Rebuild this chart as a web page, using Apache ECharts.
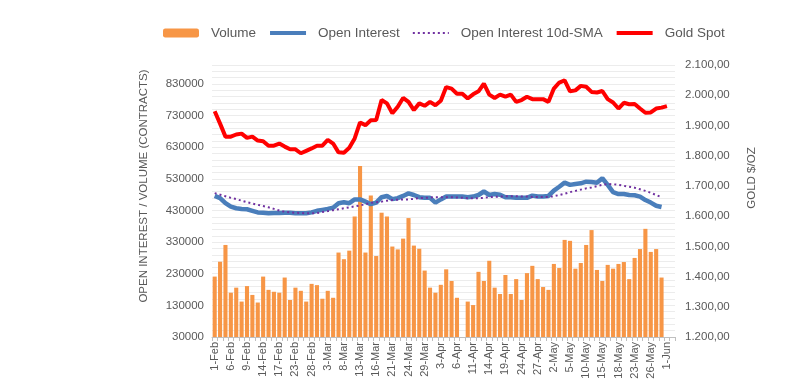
<!DOCTYPE html>
<html><head><meta charset="utf-8">
<script src="https://cdn.jsdelivr.net/npm/echarts@6/dist/echarts.min.js"></script>
<style>html,body{margin:0;padding:0;background:#fff}#c{width:810px;height:385px}</style>
</head><body><div id="c"></div>
<script>
const categories = [
 '1-Feb','2-Feb','3-Feb','6-Feb','7-Feb','8-Feb','9-Feb','10-Feb','13-Feb','14-Feb','15-Feb','16-Feb','17-Feb','21-Feb','22-Feb','23-Feb','24-Feb','27-Feb','28-Feb',
 '1-Mar','2-Mar','3-Mar','6-Mar','7-Mar','8-Mar','9-Mar','10-Mar','13-Mar','14-Mar','15-Mar','16-Mar','17-Mar','20-Mar','21-Mar','22-Mar','23-Mar','24-Mar','27-Mar','28-Mar','29-Mar','30-Mar','31-Mar',
 '3-Apr','4-Apr','5-Apr','6-Apr','7-Apr','10-Apr','11-Apr','12-Apr','13-Apr','14-Apr','17-Apr','18-Apr','19-Apr','20-Apr','21-Apr','24-Apr','25-Apr','26-Apr','27-Apr','28-Apr',
 '1-May','2-May','3-May','4-May','5-May','8-May','9-May','10-May','11-May','12-May','15-May','16-May','17-May','18-May','19-May','22-May','23-May','24-May','25-May','26-May','30-May','31-May',
 '1-Jun','2-Jun'
];
// thousands of contracts
const volume = [
 221,268,321,170,186,142,191,163,139,221,179,173,170,218,147,186,176,142,198,
 194,151,176,154,297,276,303,411,571,297,477,286,423,411,316,307,341,406,319,309,240,186,170,
 195,244,207,154,null,142,131,236,207,271,186,166,226,166,213,147,232,255,213,188,
 179,261,248,337,334,246,264,321,368,242,207,258,246,261,267,213,280,308,372,299,308,218,
 null,null
];
const openInterest = [
 476,469,453,442,437,435,434,429,424,423,421,422,422,423,423,421,421,421,424,
 429,432,435,439,453,456,453,465,465,458,450,455,472,476,466,469,476,484,479,472,470,470,455,
 465,474,474,474,474,472,474,479,490,479,482,480,472,472,470,470,470,477,474,474,
 476,493,505,518,511,514,516,521,520,518,532,511,488,482,482,479,478,474,463,455,445,441
];
const openInterestSMA = [
 485,480,475,470,466,461,456,452,448,444,440,435,430,426,424,423,422,421,421,
 422,425,428,431,434,437,440,443,446,450,454,456,458,461,463,464,465,465,467,469,470,471,472,
 472,472,472,471,470,469,469,469,470,472,473,474,475,475,475,474,474,473,473,473,
 473,475,479,483,488,492,496,500,503,507,511,514,513,511,508,505,502,497,492,486,479,472
];
const goldSpot = [
 1947,1906,1863,1863,1870,1873,1859,1863,1850,1848,1833,1833,1840,1830,1821,1821,1808,1816,1824,
 1833,1833,1852,1840,1811,1810,1826,1857,1910,1901,1917,1918,1984,1973,1940,1962,1991,1978,1951,1973,1965,1978,1967,
 1982,2027,2022,2005,2005,1989,2003,2013,2038,2002,1991,2002,1995,2002,1978,1984,1995,1987,1987,1987,
 1978,2022,2042,2049,2013,2016,2031,2028,2011,2009,2014,1987,1976,1956,1975,1970,1971,1956,1942,1943,1956,1959,
 1964
];
const leftTickLabels = ['30000','130000','230000','330000','430000','530000','630000','730000','830000'];
const rightTickLabels = ['1.200,00','1.300,00','1.400,00','1.500,00','1.600,00','1.700,00','1.800,00','1.900,00','2.000,00','2.100,00'];

const K = v => v == null ? null : v * 1000;
const FONT = 'Liberation Sans';
const TXT = '#595959';

function fmtGold(v){
  const i = Math.round(v);
  const s = String(i).replace(/\B(?=(\d{3})+(?!\d))/g, '.');
  return s + ',00';
}

const chart = echarts.init(document.getElementById('c'), null, {renderer:'canvas'});
chart.setOption({
  animation:false,
  backgroundColor:'#ffffff',
  textStyle:{fontFamily:FONT},
  legend:{
    top:21, left:158, itemGap:12, itemWidth:36, itemHeight:9,
    textStyle:{fontFamily:FONT, fontSize:13.5, color:TXT, padding:[0,0,0,7]},
    data:[
      {name:'Volume'},
      {name:'Open Interest', itemStyle:{opacity:0}, lineStyle:{width:4}},
      {name:'Open Interest 10d-SMA', itemStyle:{opacity:0}, lineStyle:{width:2}},
      {name:'Gold Spot', itemStyle:{opacity:0}, lineStyle:{width:4}}
    ]
  },
  grid:{left:212, right:135, top:65, bottom:48, containLabel:false},
  xAxis:{
    type:'category', data:categories, boundaryGap:true,
    axisLine:{lineStyle:{color:'#bfbfbf'}},
    axisTick:{show:true, interval:0, length:4, lineStyle:{color:'#bfbfbf'}},
    axisLabel:{interval:2, rotate:90, fontFamily:FONT, fontSize:11, color:TXT, margin:5},
    splitLine:{show:false}
  },
  yAxis:[
    {
      type:'value', min:30000, max:890000, interval:100000, position:'left',
      name:'OPEN INTEREST / VOLUME (CONTRACTS)', nameLocation:'middle', nameGap:62, nameRotate:90,
      nameTextStyle:{fontFamily:FONT, fontSize:11.5, color:TXT, padding:[0,0,0,30]},
      axisLine:{show:false}, axisTick:{show:false},
      axisLabel:{showMaxLabel:false, fontFamily:FONT, fontSize:11.5, color:TXT, margin:8,
        formatter:(v)=>{const i=Math.round((v-30000)/100000); return leftTickLabels[i] ?? '';}},
      splitLine:{show:true, lineStyle:{color:'#d4d4d4', width:1}}
    },
    {
      type:'value', min:1200, max:2100, interval:100, position:'right',
      name:'GOLD $/OZ', nameLocation:'middle', nameGap:71, nameRotate:90,
      nameTextStyle:{fontFamily:FONT, fontSize:11.5, color:TXT, padding:[0,0,0,46]},
      axisLine:{show:false}, axisTick:{show:false},
      axisLabel:{fontFamily:FONT, fontSize:11.5, color:TXT, margin:10,
        formatter:(v)=>{const i=Math.round((v-1200)/100); return rightTickLabels[i] ?? fmtGold(v);}},
      splitLine:{show:false}
    },
    {
      type:'value', min:30000, max:890000, interval:20000, show:true, position:'left',
      axisLine:{show:false}, axisTick:{show:false}, axisLabel:{show:false},
      splitLine:{show:true, lineStyle:{color:'#ececec', width:1}}, z:0
    }
  ],
  series:[
    {name:'Volume', type:'bar', yAxisIndex:0, data:volume.map(K), barCategoryGap:'24%',
     itemStyle:{color:'#F79646'}, z:2},
    {name:'Open Interest', type:'line', yAxisIndex:0, data:openInterest.map(K), symbol:'none', showSymbol:false,
     lineStyle:{color:'#4A7EBB', width:4.5}, itemStyle:{color:'#4A7EBB'}, z:4},
    {name:'Open Interest 10d-SMA', type:'line', yAxisIndex:0, data:openInterestSMA.map(K), symbol:'none', showSymbol:false,
     lineStyle:{color:'#7030A0', width:2, type:[2,3]}, itemStyle:{color:'#7030A0'}, z:5},
    {name:'Gold Spot', type:'line', yAxisIndex:1, data:goldSpot, symbol:'none', showSymbol:false,
     lineStyle:{color:'#FF0000', width:4}, itemStyle:{color:'#FF0000'}, z:6}
  ]
});
</script></body></html>
